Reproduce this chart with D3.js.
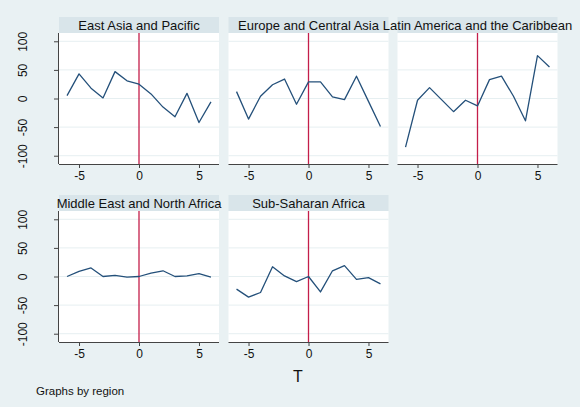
<!DOCTYPE html>
<html><head><meta charset="utf-8">
<script src="https://cdn.jsdelivr.net/npm/d3@7"></script>
<style>body{margin:0;background:#e9f1f3;} svg{display:block;}</style>
</head><body><svg id="c" width="580" height="407"></svg>
<script>
const T = [-6,-5,-4,-3,-2,-1,0,1,2,3,4,5,6];
const regions = ["East Asia and Pacific","Europe and Central Asia","Latin America and the Caribbean","Middle East and North Africa","Sub-Saharan Africa"];
const eastAsia = [5,43,18,1,47,31,25,8,-15,-32,9,-42,-6];
const europe = [12,-36,4,24,34,-10,29,29,3,-2,39,-5,-49];
const latinAmerica = [-85,-3,19,-2,-23,-3,-13,33,39,4,-39,75,55];
const middleEast = [0,9,15,0,2,-1,0,6,10,0,1,5,-1];
const subSaharan = [-22,-36,-28,17,1,-9,0,-27,10,19,-5,-2,-13];
const seriesValues = [eastAsia, europe, latinAmerica, middleEast, subSaharan];
const yTicks = [-100,-50,0,50,100];
const xTicks = [-5,0,5];

const svg = d3.select("#c");
svg.append("rect").attr("width",580).attr("height",407).attr("fill","#e9f1f3");
const colLeft = [59,228.5,397.5], rowTop = [17,195];
const W = 160, stripH = 16, H = 131;
const font = "Liberation Sans, Arial, sans-serif";

regions.forEach((name,i)=>{
  const r = Math.floor(i/3), c = i%3;
  const x0 = colLeft[c], sy = rowTop[r], py = sy+stripH;
  const x = d3.scaleLinear().domain([-6.67,6.67]).range([x0,x0+W]);
  const y = d3.scaleLinear().domain([-114.5,114.5]).range([py+H,py]);
  const g = svg.append("g");
  g.append("rect").attr("x",x0).attr("y",sy).attr("width",W).attr("height",stripH).attr("fill","#d9e5ea");
  g.append("rect").attr("x",x0).attr("y",py).attr("width",W).attr("height",H).attr("fill","#ffffff");
  g.append("text").attr("x",x0+W/2).attr("y",sy+12.5).attr("text-anchor","middle")
    .attr("font-family",font).attr("font-size",13).attr("fill","#111").text(name);
  g.selectAll("line.grid").data(yTicks).enter().append("line")
    .attr("x1",x0).attr("x2",x0+W).attr("y1",d=>y(d)).attr("y2",d=>y(d))
    .attr("stroke","#e6eff1").attr("stroke-width",1);
  g.append("line").attr("x1",x(0)).attr("x2",x(0)).attr("y1",py).attr("y2",py+H)
    .attr("stroke","#c41e4a").attr("stroke-width",1.3);
  const line = d3.line().x((d,k)=>x(T[k])).y(d=>y(d));
  g.append("path").datum(seriesValues[i]).attr("d",line).attr("fill","none")
    .attr("stroke","#24507a").attr("stroke-width",1.3).attr("stroke-linejoin","round");
  const xa = g.append("g").attr("transform",`translate(0,${py+H})`)
    .call(d3.axisBottom(x).tickValues(xTicks).tickSize(4).tickPadding(3));
  xa.select(".domain").attr("stroke","#444").attr("d",`M${x0},0.5H${x0+W}`);
  xa.selectAll("line").attr("stroke","#444");
  xa.selectAll("text").attr("font-family",font).attr("font-size",12).attr("fill","#111")
    .text(d=>d<0?"-"+Math.abs(d):d);
  if(c===0){
    const ya = g.append("g").attr("transform",`translate(${x0},0)`)
      .call(d3.axisLeft(y).tickValues(yTicks).tickSize(5).tickPadding(3));
    ya.select(".domain").attr("stroke","#444").attr("d",`M-0.5,${py}V${py+H}`);
    ya.selectAll("line").attr("stroke","#444");
    ya.selectAll("text").attr("font-family",font).attr("font-size",12).attr("fill","#111")
      .attr("text-anchor","middle").attr("x",null).attr("dy",null).attr("y",null)
      .attr("transform","translate(-41,0) rotate(-90)")
      .attr("dominant-baseline","hanging")
      .text(d=>d<0?"-"+Math.abs(d):d);
  }
});
svg.append("text").attr("x",298).attr("y",382).attr("text-anchor","middle")
  .attr("font-family",font).attr("font-size",16).attr("fill","#111").text("T");
svg.append("text").attr("x",36).attr("y",395).attr("font-family",font)
  .attr("font-size",11.5).attr("fill","#111").text("Graphs by region");
</script></body></html>
